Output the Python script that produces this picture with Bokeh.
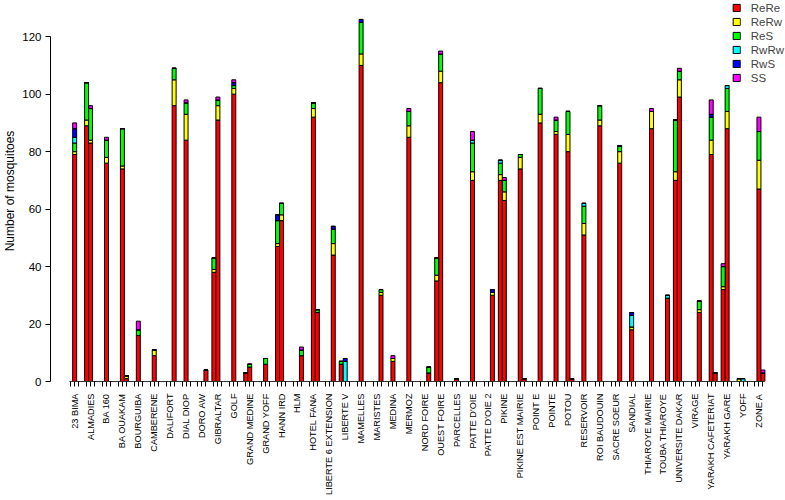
import math
from bokeh.plotting import figure
from bokeh.layouts import column
from bokeh.core.properties import value
from bokeh.models import (ColumnDataSource, Range1d, FixedTicker, Legend, LegendItem,
                          LabelSet)
from bokeh.embed import file_html
from bokeh.resources import INLINE

sites = ["23 BIMA", "ALMADIES", "BA 160", "BA OUAKAM", "BOURGUIBA", "CAMBERENE",
         "DALIFORT", "DIAL DIOP", "DORO AW", "GIBRALTAR", "GOLF", "GRAND MEDINE",
         "GRAND YOFF", "HANN IRD", "HLM", "HOTEL FANA", "LIBERTE 6 EXTENSION",
         "LIBERTE V", "MAMELLES", "MARISTES", "MEDINA", "MERMOZ", "NORD FOIRE",
         "OUEST FOIRE", "PARCELLES", "PATTE D'OIE", "PATTE D'OIE 2", "PIKINE",
         "PIKINE EST MAIRIE", "POINT E", "POINTE", "POTOU", "RESERVOIR",
         "ROI BAUDOUIN", "SACRE SOEUR", "SANDIAL", "THIAROYE MAIRIE",
         "TOUBA THIAROYE", "UNIVERSITE DAKAR", "VIRAGE", "YARAKH CAFETERIAT",
         "YARAKH GARE", "YOFF", "ZONE A"]

# each bar: site, slot within site group (1..3)
bar_site = ["23 BIMA", "ALMADIES", "ALMADIES", "BA 160", "BA OUAKAM", "BA OUAKAM",
            "BOURGUIBA", "CAMBERENE", "DALIFORT", "DIAL DIOP", "DORO AW",
            "GIBRALTAR", "GIBRALTAR", "GOLF", "GRAND MEDINE", "GRAND MEDINE",
            "GRAND YOFF", "HANN IRD", "HANN IRD", "HLM", "HOTEL FANA", "HOTEL FANA",
            "LIBERTE 6 EXTENSION", "LIBERTE V", "LIBERTE V", "MAMELLES", "MARISTES",
            "MEDINA", "MERMOZ", "NORD FOIRE", "OUEST FOIRE", "OUEST FOIRE",
            "PARCELLES", "PATTE D'OIE", "PATTE D'OIE 2", "PIKINE", "PIKINE",
            "PIKINE EST MAIRIE", "PIKINE EST MAIRIE", "POINT E", "POINTE", "POTOU",
            "POTOU", "RESERVOIR", "ROI BAUDOUIN", "SACRE SOEUR", "SANDIAL",
            "THIAROYE MAIRIE", "TOUBA THIAROYE", "UNIVERSITE DAKAR",
            "UNIVERSITE DAKAR", "VIRAGE", "YARAKH CAFETERIAT", "YARAKH CAFETERIAT",
            "YARAKH GARE", "YARAKH GARE", "YOFF", "YOFF", "ZONE A", "ZONE A"]
bar_slot = [2, 1, 2, 2, 2, 3,
            2, 2, 3, 2, 3,
            1, 2, 2, 1, 2,
            2, 1, 2, 3, 2, 3,
            3, 1, 2, 2, 3,
            2, 2, 3, 1, 2,
            2, 2, 3, 1, 2,
            2, 3, 3, 3, 2,
            3, 2, 2, 3, 2,
            3, 3, 1,
            2, 3, 2, 3,
            1, 2, 1, 2, 2, 3]

rere = [79, 89, 83, 76, 74, 1,
        16, 9, 96, 84, 4,
        38, 91, 100, 3, 5,
        6, 47, 56, 9, 92, 24,
        44, 6, 0, 110, 30,
        7, 85, 3, 35, 104,
        1, 70, 30, 70, 63,
        74, 1, 90, 86, 80,
        1, 51, 89, 76, 18,
        88, 29, 70,
        99, 24, 79, 3,
        32, 88, 0, 0, 67, 3]
rerw = [1, 2, 1, 2, 1, 1,
        0, 2, 9, 9, 0,
        1, 5, 2, 0, 0,
        0, 1, 2, 0, 3, 0,
        4, 0, 0, 4, 1,
        1, 4, 0, 2, 4,
        0, 3, 1, 2, 3,
        4, 0, 3, 1, 6,
        0, 4, 2, 4, 1,
        6, 0, 3,
        6, 1, 5, 0,
        1, 6, 1, 0, 10, 0]
res = [3, 13, 11, 6, 13, 0,
       2, 0, 4, 4, 0,
       4, 2, 1, 0, 1,
       2, 8, 4, 2, 2, 1,
       5, 1, 0, 11, 1,
       0, 5, 2, 6, 6,
       0, 10, 0, 4, 4,
       1, 0, 9, 4, 8,
       0, 6, 5, 2, 0,
       0, 0, 18,
       3, 3, 8, 0,
       7, 8, 0, 0, 10, 0]
rwrw = [2, 0, 0, 0, 0, 0,
        0, 0, 0, 0, 0,
        0, 0, 0, 0, 0,
        0, 0, 0, 0, 0, 0,
        0, 0, 7, 0, 0,
        0, 0, 0, 0, 0,
        0, 1, 0, 1, 0,
        0, 0, 0, 0, 0,
        0, 1, 0, 0, 4,
        0, 1, 0,
        0, 0, 0, 0,
        0, 1, 0, 1, 0, 0]
rws = [3, 0, 0, 0, 0, 0,
       0, 0, 0, 0, 0,
       0, 0, 1, 0, 0,
       0, 2, 0, 0, 0, 0,
       1, 0, 1, 1, 0,
       0, 0, 0, 0, 0,
       0, 0, 1, 0, 0,
       0, 0, 0, 0, 0,
       0, 0, 0, 0, 1,
       0, 0, 0,
       0, 0, 1, 0,
       0, 0, 0, 0, 0, 0]
ss = [2, 0, 1, 1, 0, 0,
      3, 0, 0, 1, 0,
      0, 1, 1, 0, 0,
      0, 0, 0, 1, 0, 0,
      0, 0, 0, 0, 0,
      1, 1, 0, 0, 1,
      0, 3, 0, 0, 1,
      0, 0, 0, 1, 0,
      0, 0, 0, 0, 0,
      1, 0, 0,
      1, 0, 5, 0,
      1, 0, 0, 0, 5, 1]

genotypes = ["ReRe", "ReRw", "ReS", "RwRw", "RwS", "SS"]
colors = ["#FF0000", "#FFFF00", "#00FF00", "#00FFFF", "#0000FF", "#FF00FF"]
y_ticks = [0, 20, 40, 60, 80, 100, 120]

FONT = "Liberation Sans"

xpos = [4 * sites.index(s) + k - 1 for s, k in zip(bar_site, bar_slot)]
src = ColumnDataSource(dict(x=xpos, ReRe=rere, ReRw=rerw, ReS=res,
                            RwRw=rwrw, RwS=rws, SS=ss))

xr = Range1d(-5.075, 179.675)

p = figure(width=785, height=392, output_backend="svg", toolbar_location=None,
           x_range=xr, y_range=Range1d(0, 132.6),
           min_border_left=46, min_border_right=0, min_border_top=0,
           min_border_bottom=11)
p.outline_line_color = None
p.xgrid.visible = False
p.ygrid.visible = False

rs = p.vbar_stack(genotypes, x="x", width=1, source=src,
                  fill_color=colors, line_color="black", line_width=1)

# x axis: ticks only; site names drawn in the strip below
all_ticks = [4 * g + k for g in range(len(sites)) for k in range(3)]
xa = p.xaxis[0]
xa.ticker = FixedTicker(ticks=all_ticks)
xa.major_label_overrides = {t: "" for t in all_ticks}
xa.major_label_text_font_size = "1px"
xa.major_label_standoff = 0
xa.major_tick_out = 5
xa.major_tick_in = 0
xa.minor_tick_out = 0
xa.minor_tick_in = 0
xa.axis_line_color = "#333333"
xa.major_tick_line_color = "black"
xa.bounds = (-0.4, 174.4)

# y axis
ya = p.yaxis[0]
ya.ticker = FixedTicker(ticks=y_ticks)
ya.bounds = (0, 120)
ya.major_label_text_font = FONT
ya.major_label_text_font_size = "11.5px"
ya.major_label_text_color = "black"
ya.major_label_standoff = 4
ya.major_tick_out = 5
ya.major_tick_in = 0
ya.minor_tick_out = 0
ya.minor_tick_in = 0
ya.axis_line_color = "black"
ya.major_label_orientation = "horizontal"
ya.axis_label = "Number of mosquitoes"
ya.axis_label_text_font = FONT
ya.axis_label_text_font_size = "12px"
ya.axis_label_text_font_style = "normal"
ya.axis_label_text_color = "black"
ya.axis_label_standoff = 2

legend = Legend(items=[LegendItem(label=g, renderers=[r]) for g, r in zip(genotypes, rs)],
                location="top_right", margin=1, padding=0, spacing=1,
                glyph_width=9, glyph_height=9, label_height=13, label_standoff=10,
                label_text_font=FONT, label_text_font_size="11.5px",
                border_line_alpha=0, background_fill_alpha=0)
p.add_layout(legend)

# strip with the site names
q = figure(width=785, height=108, output_backend="svg", toolbar_location=None,
           x_range=xr, y_range=Range1d(0, 108),
           x_axis_location=None, y_axis_location=None,
           min_border_left=46, min_border_right=0, min_border_top=0,
           min_border_bottom=0)
q.outline_line_color = None
q.xgrid.visible = False
q.ygrid.visible = False
site_src = ColumnDataSource(dict(x=[4 * g + 1 for g in range(len(sites))],
                                 y=[107] * len(sites), name=sites))
q.add_layout(LabelSet(x="x", y="y", text="name", source=site_src,
                      angle=math.pi / 2, text_align="right", text_baseline="middle",
                      text_font=value(FONT), text_font_size=value("9.2px"),
                      text_color="black"))

layout = column(p, q, spacing=0)
open("out.html", "w").write(file_html(layout, INLINE))
